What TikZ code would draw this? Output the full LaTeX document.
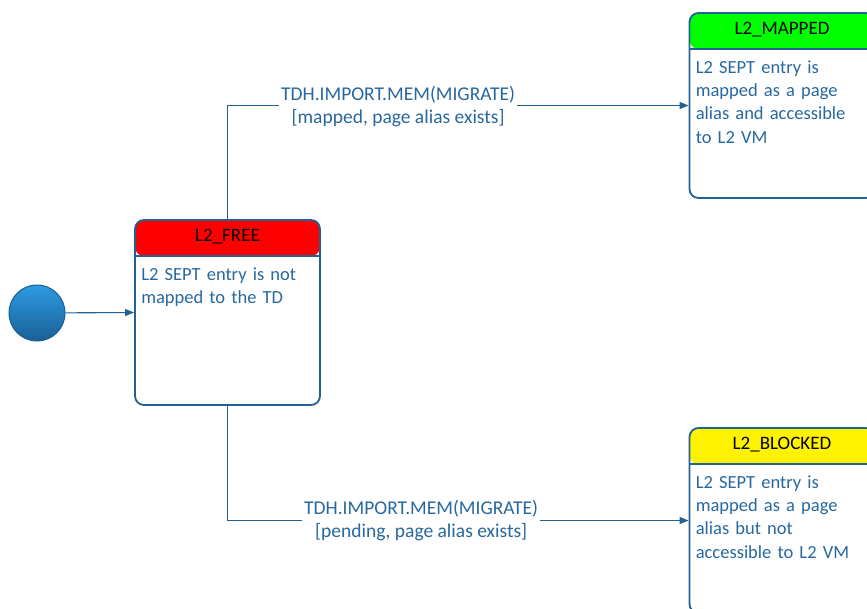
\documentclass[tikz,border=0pt]{standalone}
\usepackage{fontspec}
\setmainfont{Carlito}
\usetikzlibrary{arrows.meta}
\definecolor{stline}{RGB}{33,98,150}
\definecolor{sttext}{RGB}{40,104,160}
\definecolor{initlight}{RGB}{45,155,225}
\definecolor{initdark}{RGB}{25,95,150}
\begin{document}
\begin{tikzpicture}[
  x=1pt, y=-1pt,
  >={Triangle[length=9pt,width=7pt]},
  statebox/.style={rectangle, rounded corners=9pt, draw=stline, line width=1.8pt, fill=white, minimum width=185pt, minimum height=185pt, inner sep=0pt,
    path picture={\fill[#1] (path picture bounding box.north west) rectangle ([yshift=-36pt]path picture bounding box.north east);
      \draw[stline, line width=1.6pt] ([yshift=-36pt]path picture bounding box.north west) -- ([yshift=-36pt]path picture bounding box.north east);}},
  sthead/.style={font={\fontsize{19}{22}\selectfont}, text=black, inner sep=0pt},
  stbody/.style={font={\fontsize{18.5}{23.4}\selectfont}, text=sttext, text width=175pt, align=left, inner sep=0pt, anchor=north west},
  initnode/.style={circle, draw=initdark, line width=1pt, top color=initlight, bottom color=initdark, minimum size=56pt, inner sep=0pt},
  trans/.style={->, draw=stline, line width=1.1pt},
  translbl/.style={font={\fontsize{19.5}{23}\selectfont}, text=sttext, fill=white, align=center, inner sep=2pt}
]
\useasboundingbox (0,0) rectangle (867,608);
\clip (0,0) rectangle (867,608);
\node[initnode] (init) at (37,313) {};
\node[statebox=red] (free) at (227.5,312.5) {};
\node[statebox=green] (mapped) at (782,105.5) {};
\node[statebox=yellow] (blocked) at (782,520.5) {};
\node[sthead] (freehd) at ([yshift=-18pt]free.north) {L2\_FREE};
\node[sthead] (mappedhd) at ([yshift=-18pt]mapped.north) {L2\_MAPPED};
\node[sthead] (blockedhd) at ([yshift=-18pt]blocked.north) {L2\_BLOCKED};
\node[stbody] (freetx) at ([xshift=7pt,yshift=-48pt]free.north west) {L2 SEPT entry is not\\mapped to the TD};
\node[stbody] (mappedtx) at ([xshift=7pt,yshift=-48pt]mapped.north west) {L2 SEPT entry is\\mapped as a page\\alias and accessible\\to L2 VM};
\node[stbody] (blockedtx) at ([xshift=7pt,yshift=-48pt]blocked.north west) {L2 SEPT entry is\\mapped as a page\\alias but not\\accessible to L2 VM};
\draw[trans] (init) -- (free.west);
\draw[trans] (free.north) |- node[translbl, pos=0.685, yshift=-1.5pt] {TDH.IMPORT.MEM(MIGRATE)\\{}[mapped, page alias exists]} (mapped.west);
\draw[trans] (free.south) |- node[translbl, pos=0.71] {TDH.IMPORT.MEM(MIGRATE)\\{}[pending, page alias exists]} (blocked.west);
\end{tikzpicture}
\end{document}
